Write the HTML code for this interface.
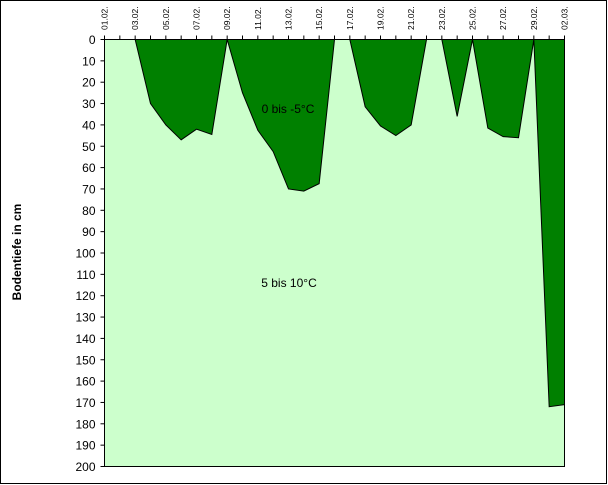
<!DOCTYPE html>
<html><head><meta charset="utf-8"><style>
body{margin:0;background:#fff;}
svg{display:block;font-family:"Liberation Sans",Arial,sans-serif;}
</style></head><body>
<svg id="chart" width="608" height="485" viewBox="0 0 608 485">
<rect x="0.5" y="0.5" width="606" height="483" fill="#fff" stroke="#000"/>
<g id="plot"></g>
</svg>
<script>
const dateLabels=["01.02.","03.02.","05.02.","07.02.","09.02.","11.02.","13.02.","15.02.","17.02.","19.02.","21.02.","23.02.","25.02.","27.02.","29.02.","02.03."];
const days=[0,1,2,3,4,5,6,7,8,9,10,11,12,13,14,15,16,17,18,19,20,21,22,23,24,25,26,27,28,29,30];
const frostDepth=[0,0,0,30,40,47,42,44.5,0,25,42.5,52.5,70,71,67.5,0,0,31.5,40.5,45,40,0,0,36,0,41.5,45.5,46,0,172,171];
const yTicks=[0,10,20,30,40,50,60,70,80,90,100,110,120,130,140,150,160,170,180,190,200];
const L=104.5,R=564.5,T=39.5,B=466.5;
const xS=d=>L+(R-L)*d/30;
const yS=v=>T+(B-T)*v/200;
const NS="http://www.w3.org/2000/svg";
const g=document.getElementById('plot');
function mk(t,a){const e=document.createElementNS(NS,t);for(const k in a)e.setAttribute(k,a[k]);g.appendChild(e);return e;}
let e=mk('rect',{x:L,y:T,width:R-L,height:B-T,fill:'#ccffcc'});


let pts=days.map((d,i)=>xS(d)+','+yS(frostDepth[i])).join(' ');
pts=xS(days[0])+','+yS(0)+' '+pts+' '+xS(days[days.length-1])+','+yS(0);
e=mk('polygon',{points:pts,fill:'#008000',stroke:'none'});


e=mk('polyline',{points:days.map((d,i)=>xS(d)+','+yS(frostDepth[i])).join(' '),fill:'none',stroke:'#000','stroke-width':1});


e=mk('rect',{x:L,y:T,width:R-L,height:B-T,fill:'none',stroke:'#000'});


yTicks.forEach(v=>{
  let t=mk('line',{x1:L-4,x2:L,y1:yS(v),y2:yS(v),stroke:'#000'});
  
  
  let tx=mk('text',{x:L-9,y:yS(v)+4.5,'text-anchor':'end','font-size':12});
  
  
  tx.textContent=v;
});
days.forEach(d=>{
  let t=mk('line',{x1:xS(d),x2:xS(d),y1:T-4,y2:T,stroke:'#000'});
  
  
});
dateLabels.forEach((s,i)=>{
  const x=xS(i*2)+3;
  let tx=mk('text',{x:x,y:30,'font-size':8.5,transform:'rotate(-90 '+x+' 30)'});
  
  
  tx.textContent=s;
});
e=mk('text',{x:21,y:252,'font-size':12,'font-weight':'bold','text-anchor':'middle',transform:'rotate(-90 21 252)'});


e.textContent='Bodentiefe in cm';
e=mk('text',{x:288,y:113,'font-size':12,'text-anchor':'middle'});


e.textContent='0 bis -5°C';
e=mk('text',{x:289,y:287,'font-size':12,'text-anchor':'middle'});


e.textContent='5 bis 10°C';
</script>
</body></html>
